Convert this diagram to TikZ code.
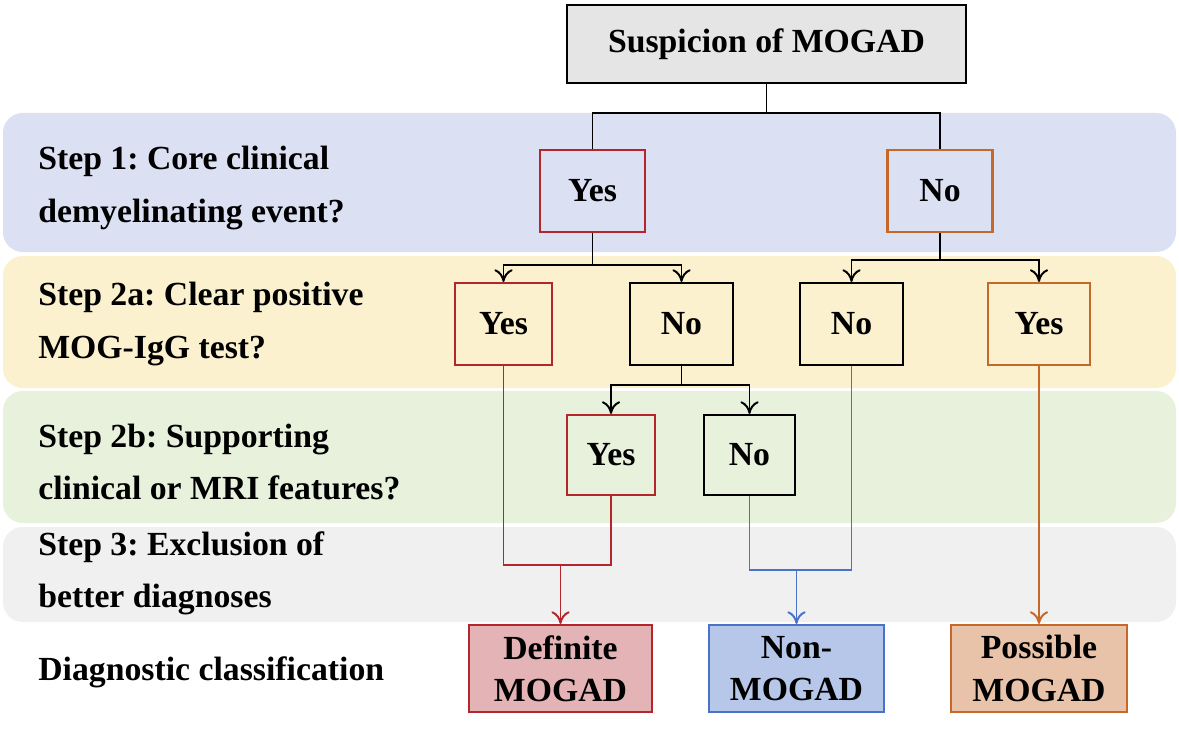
\documentclass[tikz,border=0pt]{standalone}
\usepackage{fontspec}
\setmainfont{Liberation Serif}
\usetikzlibrary{arrows.meta,positioning}
\definecolor{defred}{HTML}{B3262C}
\definecolor{posorange}{HTML}{C5682A}
\definecolor{nonblue}{HTML}{4A72C8}
\definecolor{bandblue}{HTML}{DCE0F3}
\definecolor{bandyellow}{HTML}{FBF1CE}
\definecolor{bandgreen}{HTML}{E8F1DC}
\definecolor{bandgray}{HTML}{F0F0F0}
\tikzset{>={To[length=9pt,width=13pt]}}
\tikzset{
    box/.style={rectangle,draw,line width=1.5pt,inner sep=0pt,align=center,font=\fontsize{24}{30}\selectfont\bfseries},
    steptext/.style={anchor=west,align=left,inner sep=0pt,font=\fontsize{24}{37}\selectfont\bfseries},
    band/.style={rounded corners=14pt},
    link/.style={line width=1.4pt},
}
\frenchspacing
\begin{document}
\begin{tikzpicture}[x=0.025cm,y=-0.025cm]
		\useasboundingbox (0,0) rectangle (1179,736);
		% background bands
		\fill[band,bandblue] (3,113) rectangle (1176,252);
		\fill[band,bandyellow] (3,256) rectangle (1176,388);
		\fill[band,bandgreen] (3,391) rectangle (1176,523);
		\fill[band,bandgray] (3,527) rectangle (1176,622);
	
		\node[steptext] (s1) at (38,188) {Step 1: Core clinical\\demyelinating event?};
		\node[steptext] (s2a) at (38,324) {Step 2a: Clear positive\\MOG-IgG test?};
		\node[steptext] (s2b) at (38,462) {Step 2b: Supporting\\clinical or MRI features?};
		\node[steptext] (s3) at (38,573) {Step 3: Exclusion of\\better diagnoses};
		\node[steptext] (dc) at (38,672) {Diagnostic classification};
	
		\node[box,fill=black!10,minimum width=9.975cm,minimum height=1.95cm] (top) at (766.5,44) {Suspicion of MOGAD};
		\node[box,draw=defred,minimum width=2.625cm,minimum height=2.05cm] (yes1) at (592.5,191) {Yes};
		\node[box,draw=posorange,minimum width=2.625cm,minimum height=2.05cm] (no1) at (940,191) {No};
		\node[box,draw=defred,minimum width=2.425cm,minimum height=2.05cm] (yes2a) at (503.5,324) {Yes};
		\node[box,minimum width=2.575cm,minimum height=2.05cm] (no2a) at (681.5,324) {No};
		\node[box,minimum width=2.575cm,minimum height=2.05cm] (no2c) at (851.5,324) {No};
		\node[box,draw=posorange,minimum width=2.55cm,minimum height=2.05cm] (yes2c) at (1039,324) {Yes};
		\node[box,draw=defred,minimum width=2.2cm,minimum height=2cm] (yes2b) at (611,455) {Yes};
		\node[box,minimum width=2.275cm,minimum height=2cm] (no2b) at (749.5,455) {No};
		\node[box,draw=defred,fill=defred!35,minimum width=4.575cm,minimum height=2.175cm] (def) at (560.5,668.5) {Definite\\MOGAD};
		\node[box,draw=nonblue,fill=nonblue!40,minimum width=4.375cm,minimum height=2.175cm] (non) at (796.5,668.5) {Non-\\MOGAD};
		\node[box,draw=posorange,fill=posorange!40,minimum width=4.4cm,minimum height=2.175cm] (pos) at (1039,668.5) {Possible\\MOGAD};
	
		\draw[link] (top.south) -- (top.south |- 0,113) -| (yes1.north);
		\draw[link] (top.south |- 0,113) -| (no1.north);
		\draw[link,->] (yes1.south) -- (yes1.south |- 0,265) -| (yes2a.north);
		\draw[link,->] (yes1.south |- 0,265) -| (no2a.north);
		\draw[link,->] (no1.south) -- (no1.south |- 0,260) -| (no2c.north);
		\draw[link,->] (no1.south |- 0,260) -| (yes2c.north);
		\draw[link,->] (no2a.south) -- (no2a.south |- 0,385) -| (yes2b.north);
		\draw[link,->] (no2a.south |- 0,385) -| (no2b.north);
		\draw[link,defred] (yes2a.south) -- (yes2a.south |- 0,565) -| (yes2b.south);
		\draw[link,defred,->] (def.north |- 0,565) -- (def.north);
		\draw[link,nonblue] (no2b.south) -- (no2b.south |- 0,570) -| (no2c.south);
		\draw[link,nonblue,->] (non.north |- 0,570) -- (non.north);
		\draw[link,posorange,->] (yes2c.south) -- (pos.north);
	\end{tikzpicture}
\end{document}
